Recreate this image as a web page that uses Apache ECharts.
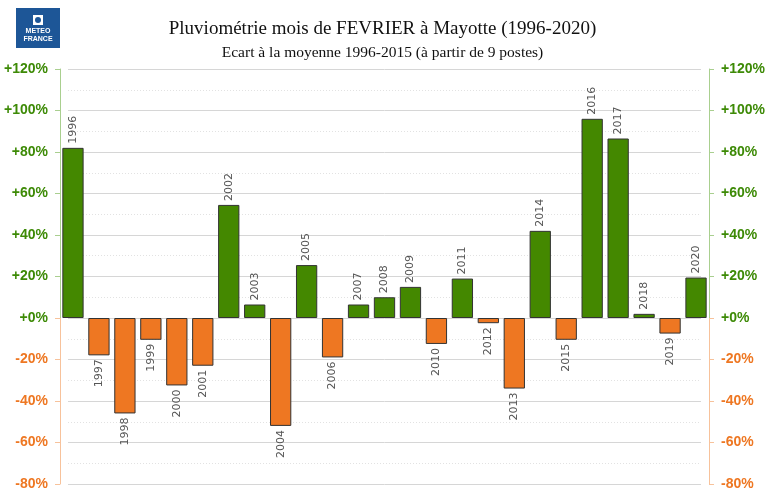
<!DOCTYPE html>
<html>
<head>
<meta charset="utf-8">
<script src="https://cdn.jsdelivr.net/npm/echarts@6/dist/echarts.min.js"></script>
<style>
  html, body { margin: 0; padding: 0; background: #fff; }
  #chart { width: 765px; height: 488px; }
</style>
</head>
<body>
<div id="chart"></div>
<script>
// ecarts a la moyenne 1996-2015, en %
var years = ['1996', '1997', '1998', '1999', '2000', '2001', '2002', '2003', '2004', '2005',
  '2006', '2007', '2008', '2009', '2010', '2011', '2012', '2013', '2014', '2015',
  '2016', '2017', '2018', '2019', '2020']
var ecarts = [82, -18, -46, -10.5, -32.5, -23, 54.5, 6.5, -52, 25.5,
  -19, 6.5, 10, 15, -12.5, 19, -2.5, -34, 42, -10.5,
  96, 86.5, 2, -7.5, 19.5]
var yTicks = [-80, -60, -40, -20, 0, 20, 40, 60, 80, 100, 120]

var VERT = '#448800'
var ORANGE = '#ee7722'
var gridTop = 69
var gridBottom = 4

var chart = echarts.init(document.getElementById('chart'))

// ligne d'axe : vert au-dessus de 0, orange en dessous
function axisColor(light) {
  var h = 488 - gridBottom
  var zero = (yTicks[yTicks.length - 1]) / (yTicks[yTicks.length - 1] - yTicks[0])
  return new echarts.graphic.LinearGradient(0, gridTop, 0, h, [
    { offset: 0, color: light ? '#a9cf8f' : VERT },
    { offset: zero, color: light ? '#a9cf8f' : VERT },
    { offset: zero, color: light ? '#f7c29b' : ORANGE },
    { offset: 1, color: light ? '#f7c29b' : ORANGE }
  ], true)
}

function fmt(v) {
  return (v >= 0 ? '+' : '') + v + '%'
}

function yAxisDef(pos) {
  return {
    type: 'value',
    position: pos,
    min: yTicks[0],
    max: yTicks[yTicks.length - 1],
    interval: 20,
    gridIndex: 0,
    axisLine: { show: true, lineStyle: { color: axisColor(true), width: 1 } },
    axisTick: { show: true, length: 5, lineStyle: { color: axisColor(true) } },
    splitLine: { show: false },
    axisLabel: {
      margin: 12,
      fontFamily: 'Liberation Sans',
      fontWeight: 'bold',
      fontSize: 14,
      formatter: fmt,
      color: function (v) { return Number(v) >= 0 ? '#3d8a06' : ORANGE }
    }
  }
}

var barData = ecarts.map(function (v) {
  return {
    value: v,
    itemStyle: { color: v >= 0 ? VERT : ORANGE },
    label: v >= 0
      ? { position: 'top', align: 'left', verticalAlign: 'middle', rotate: 90 }
      : { position: 'bottom', align: 'right', verticalAlign: 'middle', rotate: 90 }
  }
})

chart.setOption({
  animation: false,
  title: [{
    text: 'Pluviométrie mois de FEVRIER à Mayotte (1996-2020)',
    left: 'center',
    top: 15,
    textStyle: { fontFamily: 'Liberation Serif', fontWeight: 'normal', fontSize: 19, color: '#111' }
  }, {
    text: 'Ecart à la moyenne 1996-2015 (à partir de 9 postes)',
    left: 'center',
    top: 40,
    textStyle: { fontFamily: 'Liberation Serif', fontWeight: 'normal', fontSize: 15.5, color: '#111' }
  }],
  graphic: [{
    type: 'group',
    left: 16,
    top: 8,
    children: [
      { type: 'rect', shape: { x: 0, y: 0, width: 44, height: 40 }, style: { fill: '#1d5697' } },
      { type: 'rect', shape: { x: 17, y: 7, width: 10, height: 10 }, style: { fill: '#fff' } },
      { type: 'circle', shape: { cx: 22, cy: 12, r: 3 }, style: { fill: '#1d5697' } },
      { type: 'text', style: { x: 22, y: 23, text: 'METEO', fill: '#fff', font: 'bold 7px Liberation Sans', align: 'center', verticalAlign: 'middle' } },
      { type: 'text', style: { x: 22, y: 31, text: 'FRANCE', fill: '#fff', font: 'bold 7px Liberation Sans', align: 'center', verticalAlign: 'middle' } }
    ]
  }],
  grid: [
    { left: 60, right: 56, top: gridTop, bottom: gridBottom, outerBoundsMode: 'none' },
    // grille des lignes de fond, un peu en retrait
    { left: 68, right: 64, top: gridTop, bottom: gridBottom, outerBoundsMode: 'none' }
  ],
  xAxis: [{
    type: 'category',
    data: years,
    gridIndex: 0,
    axisLine: { show: false },
    axisTick: { show: false },
    axisLabel: { show: false }
  }, {
    type: 'category',
    data: years,
    gridIndex: 1,
    show: false
  }],
  yAxis: [
    yAxisDef('left'),
    yAxisDef('right'),
    {
      type: 'value',
      gridIndex: 1,
      min: yTicks[0],
      max: yTicks[yTicks.length - 1],
      interval: 20,
      axisLine: { show: false },
      axisTick: { show: false },
      axisLabel: { show: false },
      splitLine: { show: true, lineStyle: { color: '#d6d6d6', width: 1 } },
      minorTick: { show: false, splitNumber: 2 },
      minorSplitLine: { show: true, lineStyle: { color: '#e2e2e2', type: [1, 2], width: 1 } }
    }
  ],
  series: [{
    type: 'bar',
    xAxisIndex: 0,
    yAxisIndex: 0,
    data: barData,
    barCategoryGap: '18%',
    z: 3,
    itemStyle: { borderColor: '#333', borderWidth: 1 },
    label: {
      show: true,
      distance: 4,
      formatter: function (p) { return years[p.dataIndex] },
      fontFamily: 'DejaVu Sans',
      fontSize: 11,
      color: '#555'
    }
  }]
})
</script>
</body>
</html>
